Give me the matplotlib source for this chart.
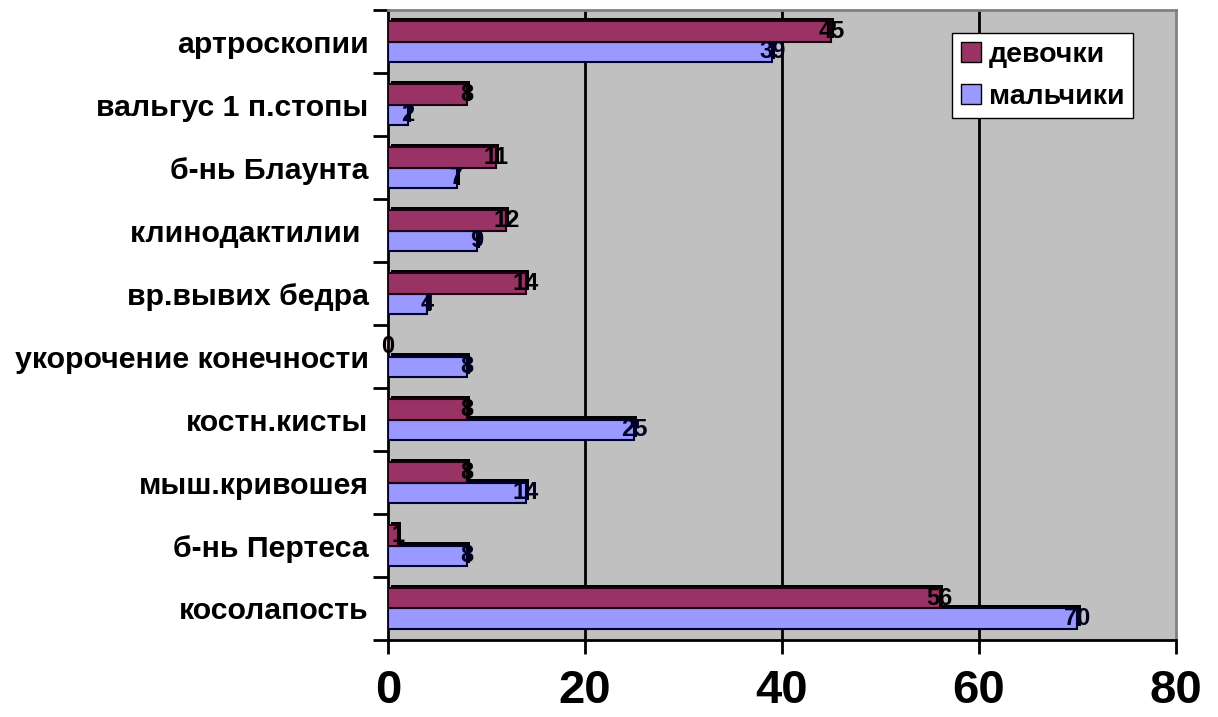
import matplotlib.pyplot as plt
import numpy as np
from matplotlib import patches
from matplotlib import patheffects

plt.rcParams['font.family'] = ['Liberation Sans', 'DejaVu Sans']
plt.rcParams['font.weight'] = 'bold'

# categories listed top to bottom
categories = ['артроскопии', 'вальгус 1 п.стопы', 'б-нь Блаунта', 'клинодактилии ',
              'вр.вывих бедра', 'укорочение конечности', 'костн.кисты',
              'мыш.кривошея', 'б-нь Пертеса', 'косолапость']
girls = [45, 8, 11, 12, 14, 0, 8, 8, 1, 56]
boys = [39, 2, 7, 9, 4, 8, 25, 14, 8, 70]
x_ticks = [0, 20, 40, 60, 80]

girls_color = '#993366'
boys_color = '#9999FF'
bar_h = 0.32

fig = plt.figure(figsize=(12.18, 7.17), dpi=100)
ax = fig.add_axes([0.3186, 0.1074, 0.6469, 0.8786])
ax.set_facecolor('#C0C0C0')

# first category sits at the top
n = len(categories)
pos = np.arange(n)[::-1]

shadow = [patheffects.withSimplePatchShadow(offset=(2.2, 2.2), shadow_rgbFace='black', alpha=1)]

b_boys = ax.barh(pos - bar_h / 2, boys, height=bar_h, color=boys_color,
                 edgecolor='#000033', linewidth=1.5, zorder=3)
b_girls = ax.barh(pos + bar_h / 2, girls, height=bar_h, color=girls_color,
                  edgecolor='#1a0010', linewidth=1.5, zorder=4)
for bar in list(b_boys) + list(b_girls):
    bar.set_path_effects(shadow)

for y, v in zip(pos, girls):
    ax.text(v, y + bar_h / 2, str(v), ha='center', va='center',
            fontsize=17, fontweight='bold', color='black', zorder=6)
for y, v in zip(pos, boys):
    ax.text(v, y - bar_h / 2, str(v), ha='center', va='center',
            fontsize=17, fontweight='bold', color='#000022', zorder=6)

ax.set_xlim(0, 80)
ax.set_ylim(-0.5, n - 0.5)
ax.set_xticks(x_ticks)
ax.set_xticklabels([str(t) for t in x_ticks], fontsize=34, fontweight='bold')
ax.tick_params(axis='x', length=10, width=2, pad=11, direction='out')

ax.set_yticks(pos)
ax.set_yticklabels(categories, fontsize=21.8, fontweight='bold')
ax.set_yticks(np.arange(-0.5, n), minor=True)
ax.tick_params(axis='y', which='major', length=0, pad=14)
ax.tick_params(axis='y', which='minor', length=11, width=2, direction='out')

for gx in x_ticks[1:-1]:
    ax.axvline(gx, color='black', linewidth=2, zorder=1)

ax.spines['left'].set_linewidth(2)
ax.spines['bottom'].set_linewidth(2)
ax.spines['top'].set_color('#808080')
ax.spines['right'].set_color('#808080')
ax.spines['top'].set_linewidth(2)
ax.spines['right'].set_linewidth(2)

legend_handles = [patches.Patch(facecolor=girls_color, edgecolor='black', label='девочки'),
                  patches.Patch(facecolor=boys_color, edgecolor='black', label='мальчики')]
leg = ax.legend(handles=legend_handles, loc='upper left', bbox_to_anchor=(0.716, 0.963),
                borderaxespad=0, fontsize=20.5, handlelength=0.7, handleheight=0.7,
                handletextpad=0.3, labelspacing=0.55, fancybox=False, framealpha=1,
                edgecolor='black', borderpad=0.3)
leg.get_frame().set_linewidth(1)
leg.set_zorder(7)

fig.savefig('out.png', dpi=100, facecolor='white')
